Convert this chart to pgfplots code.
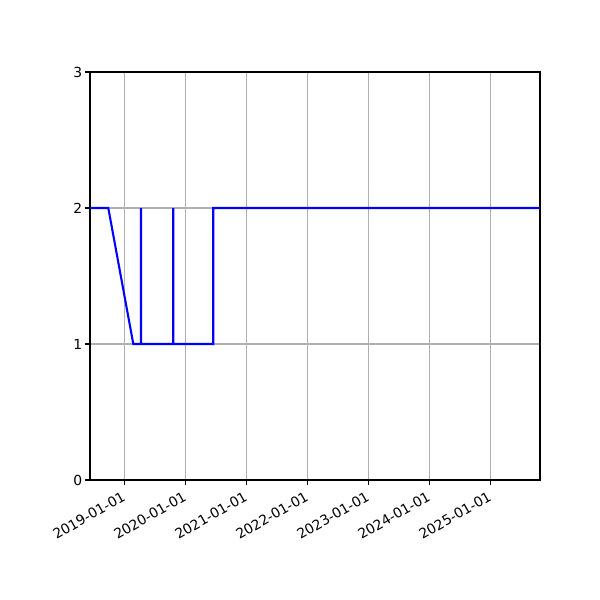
\documentclass[border=0pt]{standalone}
\usepackage{fontspec}
\setmainfont{DejaVu Sans}
\usepackage{pgfplots}
\pgfplotsset{compat=1.18}
\begin{document}
\begin{tikzpicture}
\begin{axis}[
  scale only axis,
  width=337.5pt, height=306pt,
  xmin=2018.438, xmax=2025.815,
  ymin=0, ymax=3,
  ytick={0,1,2,3},
  xtick={2019,2020,2021,2022,2023,2024,2025},
  xticklabels={2019-01-01,2020-01-01,2021-01-01,2022-01-01,2023-01-01,2024-01-01,2025-01-01},
  xticklabel style={rotate=30, anchor=north east, inner sep=1pt, yshift=-1.5pt, xshift=-3pt},
  yticklabel style={inner sep=2pt},
  tick label style={font=\fontsize{10.4}{12}\selectfont},
  /pgf/number format/assume math mode=true,
  grid=major,
  major grid style={color=black!31, line width=0.83pt},
  axis line style={line width=0.83pt},
  tick style={black, line width=0.83pt},
  tick align=outside,
  major tick length=3.65pt,
  xtick pos=bottom, ytick pos=left,
]
\addplot[color=blue, line width=1.56pt, mark=none] coordinates {
(2018.438,2) (2018.738,2) (2019.148,1) (2019.272,1) (2019.274,2) (2019.276,1)
(2019.801,1) (2019.803,2) (2019.805,1) (2020.459,1) (2020.459,2) (2025.815,2)
};
\end{axis}
\pgfresetboundingbox
\path[use as bounding box] (-67.5pt,-90pt) rectangle (382.5pt,360pt);
\end{tikzpicture}
\end{document}
